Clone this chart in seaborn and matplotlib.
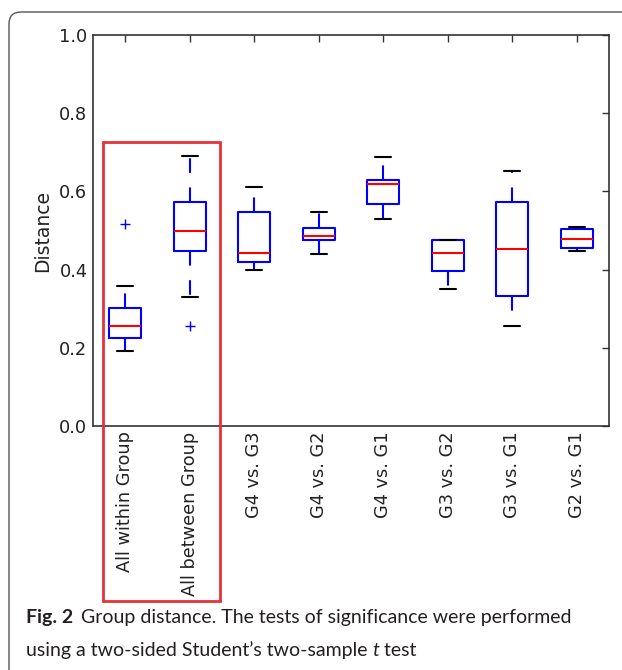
import numpy as np
import pandas as pd
import matplotlib
matplotlib.use("Agg")
import matplotlib.pyplot as plt
import seaborn as sns
from matplotlib.patches import Rectangle, FancyBboxPatch

# five-number summaries: low whisker, q1, median, q3, high whisker
groups = ["All within Group", "All between Group", "G4 vs. G3", "G4 vs. G2",
          "G4 vs. G1", "G3 vs. G2", "G3 vs. G1", "G2 vs. G1"]
within_all = [0.193, 0.225, 0.257, 0.302, 0.358]
between_all = [0.329, 0.448, 0.500, 0.574, 0.690]
g4_g3 = [0.398, 0.420, 0.443, 0.547, 0.610]
g4_g2 = [0.440, 0.475, 0.486, 0.506, 0.547]
g4_g1 = [0.529, 0.567, 0.619, 0.630, 0.688]
g3_g2 = [0.351, 0.397, 0.443, 0.475, 0.476]
g3_g1 = [0.255, 0.332, 0.453, 0.573, 0.652]
g2_g1 = [0.447, 0.456, 0.478, 0.504, 0.509]

# outliers
flier_groups = ["All within Group", "All between Group"]
flier_values = [0.516, 0.255]

series = [within_all, between_all, g4_g3, g4_g2, g4_g1, g3_g2, g3_g1, g2_g1]
df = pd.DataFrame({
    "group": np.repeat(groups, [len(s) for s in series]),
    "Distance": np.concatenate(series),
})
fliers = pd.DataFrame({"group": flier_groups, "Distance": flier_values})

sns.set_style("white")
plt.rcParams["font.family"] = "DejaVu Sans"
text_col = "#222222"

W, H = 622, 670
fig = plt.figure(figsize=(W / 100, H / 100), dpi=100)
ax = fig.add_axes([93 / W, 1 - 426 / H, (609 - 93) / W, (426 - 35) / H])

sns.boxplot(data=df, x="group", y="Distance", order=groups, ax=ax,
            fill=False, width=0.5, whis=(0, 100), showfliers=False,
            linewidth=1.5,
            boxprops=dict(color="blue"),
            medianprops=dict(color="red"),
            whiskerprops=dict(color="blue", linestyle=(0, (7, 7))),
            capprops=dict(color="black"))
sns.stripplot(data=fliers, x="group", y="Distance", order=groups, ax=ax,
              jitter=False, marker="+", color="blue", size=7, linewidth=1)

ax.set_ylim(0, 1.0)
ax.set_yticks([0.0, 0.2, 0.4, 0.6, 0.8, 1.0])
ax.set_xlabel("")
ax.set_ylabel("Distance", fontsize=13.5, color=text_col, labelpad=5)
ax.tick_params(axis="both", direction="in", length=5, width=1, colors="#333333",
               labelcolor=text_col, labelsize=12.8, top=True, right=True, pad=4)
ax.tick_params(axis="x", rotation=90)
for sp in ax.spines.values():
    sp.set_visible(True)
    sp.set_color("#333333")
    sp.set_linewidth(1.2)

# overlay in pixel units for the frame and highlight box
ov = fig.add_axes([0, 0, 1, 1], zorder=10)
ov.set_xlim(0, W)
ov.set_ylim(H, 0)
ov.axis("off")
ov.patch.set_alpha(0)
ov.add_patch(FancyBboxPatch((9, 12), 640, 700, boxstyle="round,pad=0,rounding_size=12",
                            fill=False, edgecolor="#555555", linewidth=1))
ov.add_patch(Rectangle((103, 142), 117, 459, fill=False, edgecolor="#e8303a", linewidth=2))

cap_font = "Lato"
cap_col = "#231f20"
cap_size = 14
r = fig.canvas.get_renderer()


def px_right(t):
    # right edge of a text in overlay pixel units
    bb = t.get_window_extent(r)
    return ov.transData.inverted().transform((bb.x1, bb.y0))[0]


t1 = ov.text(26, 618, "Fig. 2", fontsize=cap_size, fontweight="bold", family=cap_font,
             color=cap_col, va="center")
ov.text(px_right(t1) + 8, 618, "Group distance. The tests of significance were performed",
        fontsize=cap_size, family=cap_font, color=cap_col, va="center")
t2 = ov.text(26, 650, "using a two-sided Student\u2019s two-sample ", fontsize=cap_size,
             family=cap_font, color=cap_col, va="center")
t3 = ov.text(px_right(t2), 650, "t", fontsize=cap_size, family=cap_font, style="italic",
             color=cap_col, va="center")
ov.text(px_right(t3), 650, " test", fontsize=cap_size, family=cap_font, color=cap_col,
        va="center")

fig.savefig("out.png", dpi=100)
